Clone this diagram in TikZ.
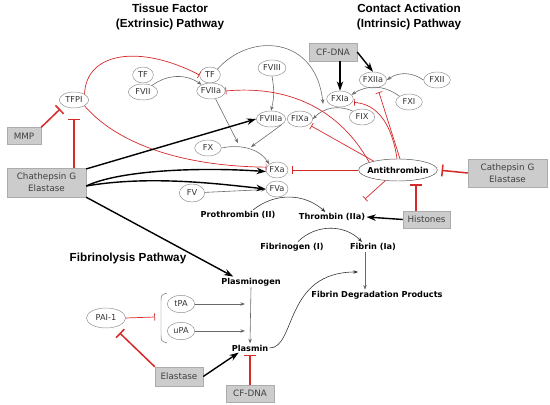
\documentclass[tikz,border=0pt]{standalone}
\usepackage{fontspec}
\setmainfont{DejaVu Sans}
\newfontfamily\titlefont{Liberation Sans}
\usepackage{tikz}
\usetikzlibrary{arrows.meta, positioning, shapes.geometric}
\definecolor{inhibred}{RGB}{214,42,42}
\definecolor{boxgray}{RGB}{204,204,204}
\definecolor{boxedge}{RGB}{172,172,172}
\definecolor{linegray}{RGB}{105,105,105}
\definecolor{ovalgray}{RGB}{140,140,140}

\tikzset{
  factor/.style={ellipse, draw=ovalgray, inner xsep=-1pt, inner ysep=0pt,
    minimum height=0.48cm, minimum width=0.72cm, text=black!80,
    font=\fontsize{7}{8}\selectfont},
  agent/.style={rectangle, fill=boxgray, draw=boxedge, inner sep=0pt,
    align=center, text=black!75, font=\fontsize{7.5}{10.5}\selectfont},
  species/.style={inner sep=1pt, font=\bfseries\fontsize{7}{8}\selectfont},
  pathtitle/.style={align=center, font=\titlefont\bfseries\fontsize{10}{13}\selectfont},
  convert/.style={linegray, line width=0.5pt, -{Stealth[length=4pt,width=3pt]}},
  activate/.style={black, line width=1.2pt, -{Stealth[length=8pt,width=5.5pt]}},
  inhibit/.style={inhibred, line width=1.3pt, -{Bar[width=10pt,line width=1.3pt]}},
  weakinhibit/.style={inhibred, line width=0.6pt, -{Bar[width=6pt,line width=0.6pt]}},
}

\begin{document}
\begin{tikzpicture}[x=0.03cm, y=-0.03cm]
  \useasboundingbox (0,0) rectangle (550,405);
  % Titles
  \node[pathtitle] (tftitle) at (170,17) {Tissue Factor\\(Extrinsic) Pathway};
  \node[pathtitle] (catitle) at (409,17) {Contact Activation\\(Intrinsic) Pathway};
  \node[pathtitle] (fltitle) at (128,258) {Fibrinolysis Pathway};
  % Extrinsic factors
  \node[factor, minimum width=0.88cm] (tfpi) at (74,100) {TFPI};
  \node[factor, minimum width=0.62cm] (tfA) at (143,75) {TF};
  \node[factor, minimum width=0.88cm] (fvii) at (143,92) {FVII};
  \node[factor, minimum width=0.62cm] (tfB) at (210,75) {TF};
  \node[factor, minimum width=0.86cm] (fviia) at (211,91) {FVIIa};
  \node[factor, minimum width=0.84cm] (fviii) at (272,68) {FVIII};
  \node[factor, minimum width=0.88cm] (fviiia) at (271,119) {FVIIIa};
  \node[factor, minimum width=0.76cm] (fixa) at (300,119) {FIXa};
  \node[factor, minimum width=0.8cm] (fx) at (208,148) {FX};
  \node[factor, minimum width=0.66cm] (fxa) at (277,170) {FXa};
  \node[factor, minimum width=0.66cm] (fva) at (277,189) {FVa};
  \node[factor, minimum width=0.76cm, minimum height=0.54cm] (fv) at (192,193) {FV};
  % Intrinsic factors
  \node[factor, minimum width=0.82cm] (fxiia) at (373,80) {FXIIa};
  \node[factor, minimum width=0.8cm] (fxii) at (437,80) {FXII};
  \node[factor, minimum width=0.8cm] (fxia) at (340,99) {FXIa};
  \node[factor, minimum width=0.8cm] (fxi) at (409,102) {FXI};
  \node[factor, minimum width=0.76cm] (fix) at (362,117) {FIX};
  \node[ellipse, draw=black!70, inner xsep=-2.5pt, inner ysep=0pt, minimum height=0.66cm,
    font=\bfseries\fontsize{7}{8}\selectfont] (anti) at (398,170) {Antithrombin};
  % Thrombin and fibrin
  \node[species] (prothr) at (238,215) {Prothrombin (II)};
  \node[species] (thromb) at (332,217) {Thrombin (IIa)};
  \node[species] (fibgen) at (292,247) {Fibrinogen (I)};
  \node[species] (fibrin) at (373,247) {Fibrin (Ia)};
  \node[species] (fdp) at (377,295) {Fibrin Degradation Products};
  % Fibrinolysis
  \node[species] (plgen) at (251,282) {Plasminogen};
  \node[species] (plasmin) at (250,348) {Plasmin};
  \node[factor, minimum width=0.82cm, minimum height=0.52cm] (tpa) at (181,304) {tPA};
  \node[factor, minimum width=0.82cm, minimum height=0.52cm] (upa) at (181,331) {uPA};
  \node[factor, minimum width=1.17cm, minimum height=0.6cm] (pai) at (106,318) {PAI-1};
  % Grey boxes
  \node[agent, minimum width=1.02cm, minimum height=0.51cm] (mmp) at (24,136) {MMP};
  \node[agent, minimum width=2.37cm, minimum height=0.87cm] (catL) at (46.5,182.5) {Chathepsin G\\Elastase};
  \node[agent, minimum width=2.37cm, minimum height=0.84cm] (catR) at (507.5,173) {Cathepsin G\\Elastase};
  \node[agent, minimum width=1.41cm, minimum height=0.51cm] (hist) at (426.5,219.5) {Histones};
  \node[agent, minimum width=1.44cm, minimum height=0.54cm] (cfdnaT) at (333,52) {CF-DNA};
  \node[agent, minimum width=1.44cm, minimum height=0.57cm] (elast) at (179,376.5) {Elastase};
  \node[agent, minimum width=1.44cm, minimum height=0.51cm] (cfdnaB) at (250,393.5) {CF-DNA};
  % Points on reaction arrows
  \coordinate (pFIX) at (323,104);
  \coordinate (pFX) at (238,143);
  \coordinate (pXa) at (251,147);
  \coordinate (pT) at (245,304);
  \coordinate (pU) at (245,331);
  \coordinate (pFDP) at (358,272);
  \coordinate (brk) at (155,317);
  \coordinate (tThr) at (365,199);
  \coordinate (hAnt) at (416,184);
  % Bracket round tPA and uPA
  \draw[linegray] (167,293) .. controls (161,295) .. (161,301) -- (161,335)
    .. controls (161,341) .. (167,343);

  % Extrinsic pathway
  \draw[convert] (fvii) to[bend left=35] (fviia);
  \draw[convert] (tfB.north east) .. controls (250,32) and (316,36) .. (pFIX);
  \draw[convert] (fviia.-60) -- (pFX);
  \draw[convert] (fviii.south) to[bend left=12] (fviiia.north);
  \draw[convert] (fix.north west) to[bend right=35] (fixa.east);
  \draw[convert] (fviiia.south east) -- (pXa);
  \draw[convert] (fx.east) .. controls (245,143) and (262,152) .. (fxa.north west);
  \draw[convert] (fv) -- (fva);
  \draw[weakinhibit] (tfpi.north east) .. controls (86,52) and (140,44) .. (tfB.west);
  \draw[weakinhibit] (tfpi.south east) .. controls (112,138) and (170,166) .. (fxa.165);
  \draw[inhibit, shorten >=4pt] (mmp.north east) -- (tfpi.south west);
  \draw[inhibit, shorten >=9pt] (catL.north -| tfpi.south) -- (tfpi.south);
  \draw[activate] ([yshift=-1pt]catL.north east) -- (fviiia.west);
  \draw[activate] ([yshift=-3pt]catL.east) .. controls (120,170) and (200,167) .. (fxa.188);
  \draw[activate] ([yshift=-3pt]catL.east) .. controls (150,175) and (220,184) .. (fva.west);
  \draw[activate] (catL.south east) -- ([xshift=0.4cm]plgen.north west);

  % Intrinsic pathway
  \draw[activate] (cfdnaT.south -| fxia) -- (fxia.north);
  \draw[activate] (cfdnaT.east) -- (fxiia.north);
  \draw[convert] (fxii.west) to[bend right=35] (fxiia.east);
  \draw[convert] (fxi.north west) to[bend right=35] (fxia.20);
  \draw[weakinhibit] (anti.165) .. controls (340,110) and (290,85) .. (fviia.east);
  \draw[weakinhibit, shorten >=2pt] (anti.160) -- (fixa.south east);
  \draw[weakinhibit, shorten >=1.5pt] (anti.95) .. controls (392,125) and (378,104) .. (fxia.-15);
  \draw[weakinhibit, shorten >=4pt] (anti.80) -- (fxiia.-60);
  \draw[weakinhibit, shorten >=3pt] (anti.west) -- (fxa.east);
  \draw[weakinhibit] (anti.-140) -- (tThr);
  \draw[inhibit, shorten >=3.5pt] (catR.west) -- (anti.east);
  \draw[inhibit] (hist.north -| hAnt) -- (hAnt);
  \draw[activate] (hist.west) -- (thromb.east);

  % Thrombin, fibrin
  \draw[convert, black!80] ([xshift=0.45cm]prothr.north) to[bend left=40] ([xshift=-0.2cm]thromb.north);
  \draw[convert, black!80] ([xshift=0.18cm]fibgen.north) to[bend left=45] ([xshift=-0.33cm]fibrin.north);
  \draw[convert] (fibrin.south -| 365,0) -- (fdp.north -| 365,0);

  % Fibrinolysis
  \draw[convert] (plgen.south) -- (plasmin.north);
  \draw[convert] (tpa) -- (pT);
  \draw[convert] (upa) -- (pU);
  \draw[convert, black!80] (plasmin.east) .. controls (296,348) and (284,272) .. (pFDP);
  \draw[weakinhibit] (pai.east) -- (brk);
  \draw[inhibit, shorten >=0.24cm] (elast.north west) -- (pai.-50);
  \draw[activate] (elast.east) -- ([xshift=0.25cm]plasmin.south west);
  \draw[inhibit, shorten >=2pt] (cfdnaB.north) -- (plasmin.south);
\end{tikzpicture}
\end{document}
